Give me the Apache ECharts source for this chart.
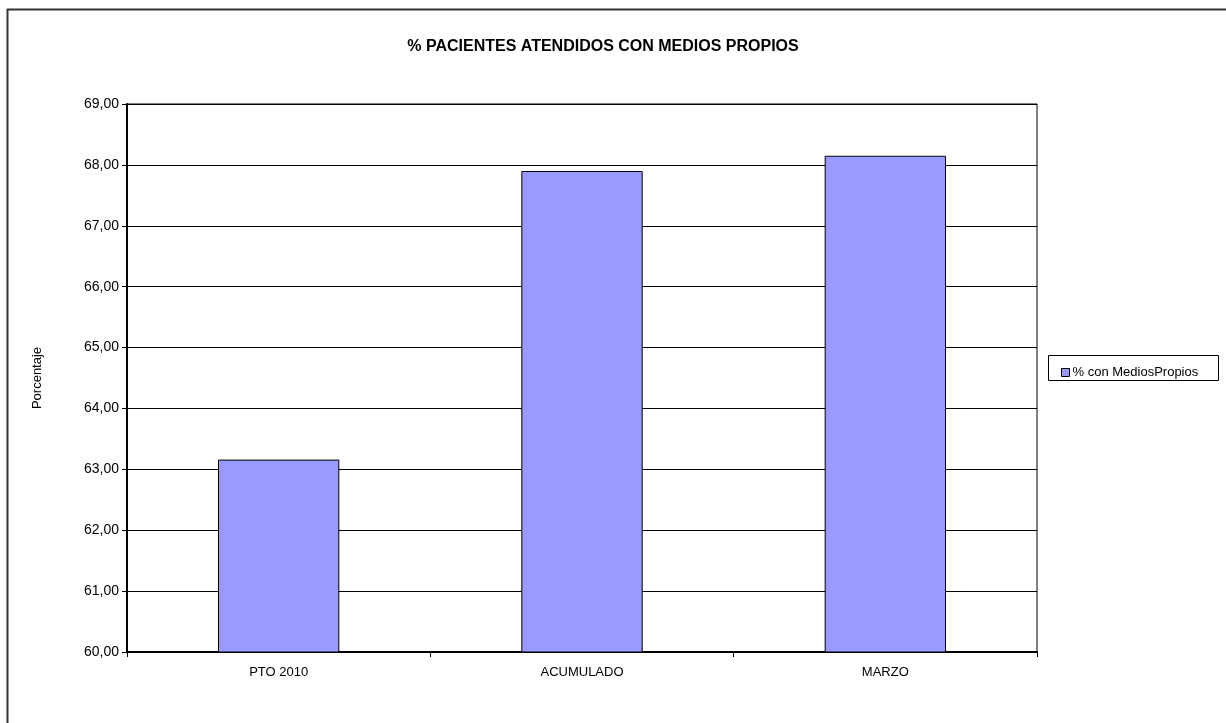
<!DOCTYPE html>
<html>
<head>
<meta charset="utf-8">
<script src="https://cdn.jsdelivr.net/npm/echarts@6/dist/echarts.min.js"></script>
<style>
  html, body { margin: 0; padding: 0; background: #fff; }
  #main { width: 1226px; height: 723px; }
</style>
</head>
<body>
<div id="main"></div>
<script>
var categories = ['PTO 2010', 'ACUMULADO', 'MARZO']
var seriesName = '% con MediosPropios'
var values = [63.16, 67.90, 68.15]

var Chart = echarts.init(document.getElementById('main'))
var option = {
  animation: false,
  backgroundColor: '#fff',
  textStyle: { fontFamily: 'Arial, "Liberation Sans", sans-serif' },
  title: {
    text: '% PACIENTES ATENDIDOS CON MEDIOS PROPIOS',
    left: 598,
    textAlign: 'center',
    top: 34,
    textStyle: { fontSize: 16, fontWeight: 'bold', color: '#000', fontFamily: 'Arial, "Liberation Sans", sans-serif' }
  },
  graphic: [
    {
      type: 'rect',
      shape: { x: 7.5, y: 9.5, width: 1240, height: 740 },
      style: { fill: 'none', stroke: '#333', lineWidth: 2 },
      silent: true
    },
    {
      type: 'rect',
      shape: { x: 1048.5, y: 355.5, width: 170, height: 25 },
      style: { fill: '#fff', stroke: '#000', lineWidth: 1 },
      z: 0,
      silent: true
    }
  ],
  legend: {
    data: [{ name: seriesName, icon: 'rect' }],
    left: 1056,
    top: 361,
    itemWidth: 8,
    itemHeight: 8,
    itemGap: 4,
    textStyle: { fontSize: 13, color: '#000', padding: [0, 0, 0, -2] },
    itemStyle: { borderColor: '#000', borderWidth: 1 }
  },
  grid: {
    left: 127,
    top: 104,
    width: 910,
    height: 548,
    show: true,
    borderColor: '#000',
    borderWidth: 1
  },
  xAxis: {
    type: 'category',
    data: categories,
    axisLine: { lineStyle: { color: '#000', width: 2 } },
    axisTick: { show: true, length: 5, lineStyle: { color: '#000' } },
    axisLabel: { color: '#000', fontSize: 13, margin: 14 }
  },
  yAxis: {
    type: 'value',
    name: 'Porcentaje',
    nameLocation: 'middle',
    nameGap: 83,
    nameTextStyle: { fontSize: 13, color: '#000' },
    min: 60,
    max: 69,
    interval: 1,
    axisLine: { show: true, lineStyle: { color: '#000', width: 2 } },
    axisTick: { show: true, length: 5, lineStyle: { color: '#000' } },
    axisLabel: {
      color: '#000',
      fontSize: 14,
      margin: 8,
      formatter: function (v) { return v.toFixed(2).replace('.', ',') }
    },
    splitLine: { lineStyle: { color: '#000', width: 1 } }
  },
  series: [
    {
      name: seriesName,
      type: 'bar',
      data: values,
      barWidth: '40%',
      itemStyle: { color: '#9999FF', borderColor: '#000', borderWidth: 1 }
    }
  ]
}
Chart.setOption(option)
</script>
</body>
</html>
